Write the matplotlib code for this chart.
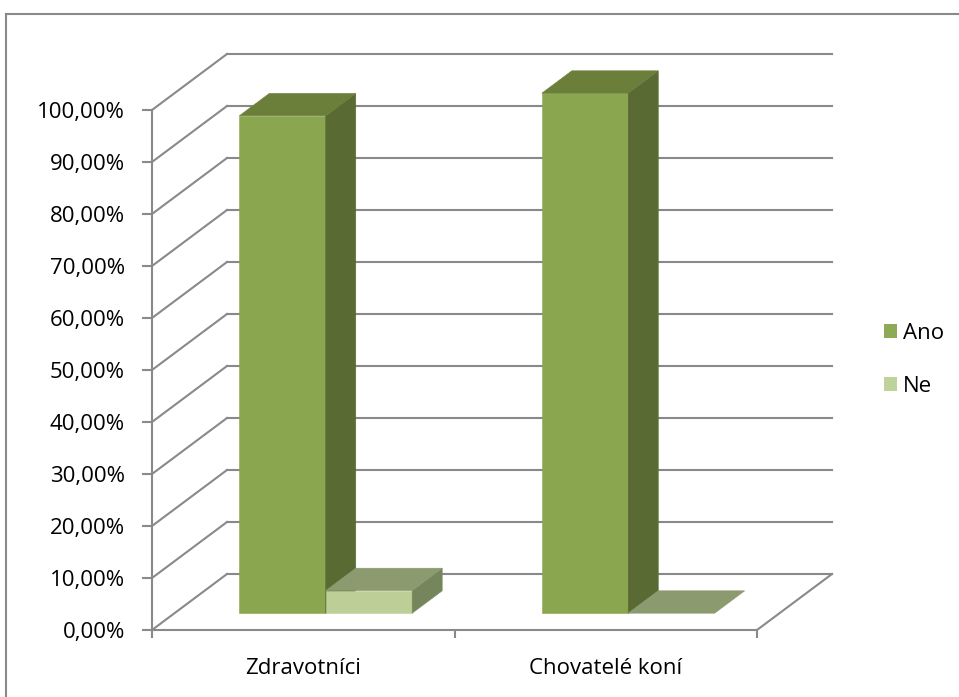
import matplotlib
matplotlib.use("Agg")
import matplotlib.pyplot as plt
from matplotlib.patches import Polygon, Patch, Rectangle
from matplotlib.lines import Line2D

# ---- data ----
categories = ["Zdravotníci", "Chovatelé koní"]
series_names = ["Ano", "Ne"]
ano = [95.65, 100.0]
ne = [4.35, 0.0]
y_ticks = [0, 10, 20, 30, 40, 50, 60, 70, 80, 90, 100]
y_tick_labels = ["0,00%", "10,00%", "20,00%", "30,00%", "40,00%", "50,00%",
                 "60,00%", "70,00%", "80,00%", "90,00%", "100,00%"]

# ---- style ----
FONT = ["Open Sans", "DejaVu Sans"]
plt.rcParams['font.family'] = FONT
GRID = "#898989"
face_colors = {
    "Ano": {"front": "#8AA64F", "top": "#6B7F3A", "side": "#596B33", "legend": "#8EAA54"},
    "Ne": {"front": "#BDCF96", "top": "#8B9A6F", "side": "#76865C", "legend": "#C0D29B"},
}
FS = 16

W, H = 959, 697
fig = plt.figure(figsize=(W / 100, H / 100), dpi=100)
fig.patch.set_facecolor("white")

# axes covers front plane: x 152..757 px, y 630..110 px
ax = fig.add_axes([152 / W, (H - 630) / H, 605 / W, 520 / H])
ax.set_xlim(0, 2)
ax.set_ylim(0, 100)
ax.set_facecolor("none")

# depth offset in data units
DX = 75 / 302.5
DY = 56 / 5.2

# gridlines: left wall diagonals and back wall
for v in y_ticks:
    ax.add_line(Line2D([0, DX], [v, v + DY], color=GRID, lw=1.5, clip_on=False, zorder=1))
    ax.add_line(Line2D([DX, 2 + DX], [v + DY, v + DY], color=GRID, lw=1.5, clip_on=False, zorder=1))
# floor right edge
ax.add_line(Line2D([2, 2 + DX], [0, DY], color=GRID, lw=1.5, clip_on=False, zorder=1))

# bars
bw = 1 / 3.5
z0, z1 = 0.3, 0.7
values = {"Ano": ano, "Ne": ne}


def poly(pts, color):
    ax.add_patch(Polygon(pts, closed=True, facecolor=color, edgecolor=color,
                         lw=0.4, clip_on=False, zorder=3))


for i, cat in enumerate(categories):
    for j, s in enumerate(series_names):
        v = values[s][i]
        x0 = i + 0.5 - bw + j * bw
        x1 = x0 + bw
        ox0, oy0 = z0 * DX, z0 * DY
        ox1, oy1 = z1 * DX, z1 * DY
        c = face_colors[s]
        if v > 0:
            poly([(x0 + ox0, oy0), (x1 + ox0, oy0), (x1 + ox0, v + oy0), (x0 + ox0, v + oy0)], c["front"])
            poly([(x1 + ox0, oy0), (x1 + ox1, oy1), (x1 + ox1, v + oy1), (x1 + ox0, v + oy0)], c["side"])
        poly([(x0 + ox0, v + oy0), (x1 + ox0, v + oy0), (x1 + ox1, v + oy1), (x0 + ox1, v + oy1)], c["top"])

# axes styling
for sp in ["top", "right"]:
    ax.spines[sp].set_visible(False)
for sp in ["left", "bottom"]:
    ax.spines[sp].set_color(GRID)
    ax.spines[sp].set_linewidth(1.5)
    ax.spines[sp].set_zorder(2)

ax.set_yticks(y_ticks)
ax.set_yticklabels(y_tick_labels)
ax.tick_params(axis="y", direction="out", length=7.5, width=1.5, color=GRID,
               labelsize=FS, pad=12, labelcolor="black")
ax.set_xticks([0, 1, 2])
ax.set_xticklabels(["", "", ""])
ax.tick_params(axis="x", which="major", direction="out", length=5.5, width=1.5, color=GRID)
ax.set_xticks([0.5, 1.5], minor=True)
ax.set_xticklabels(categories, minor=True)
ax.tick_params(axis="x", which="minor", length=0, labelsize=FS, pad=20, labelcolor="black")

# legend
handles = [Patch(facecolor=face_colors[s]["legend"], edgecolor="none") for s in series_names]
fig.legend(handles, series_names, loc="center left",
           bbox_to_anchor=(864 / W, 1 - 360 / H), frameon=False,
           fontsize=FS, handlelength=0.6, handleheight=0.6, handletextpad=0.25,
           labelspacing=1.45)

# outer border
fig.patches.append(Rectangle((6 / W, -0.1), 2, 1 - 14 / H + 0.1, transform=fig.transFigure,
                             fill=False, edgecolor=GRID, lw=1.5, zorder=0))

fig.savefig("out.png", dpi=100)
